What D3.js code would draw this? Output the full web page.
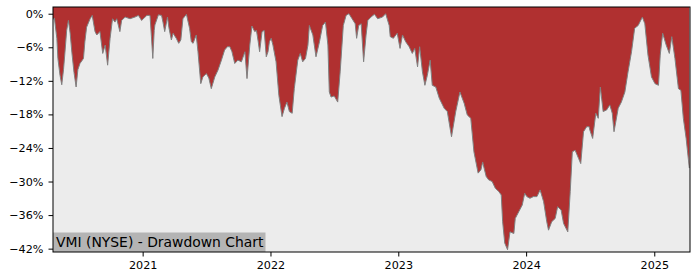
<!DOCTYPE html>
<html>
<head>
<meta charset="utf-8">
<script src="https://cdn.jsdelivr.net/npm/d3@7"></script>
<style>
  body { margin: 0; background: #fff; }
  text { font-family: "DejaVu Sans", sans-serif; }
</style>
</head>
<body>
<div id="chart"></div>
<script>
// drawdown of VMI (percent below running peak)
const dates = [
  '2020-04-20','2020-04-24','2020-05-01','2020-05-04','2020-05-10','2020-05-15','2020-05-20','2020-05-24','2020-05-29',
  '2020-06-03','2020-06-08','2020-06-13','2020-06-19','2020-06-25','2020-06-30','2020-07-06','2020-07-16','2020-07-20',
  '2020-07-25','2020-08-04','2020-08-10','2020-08-18','2020-08-23','2020-09-01','2020-09-09','2020-09-16','2020-09-23',
  '2020-09-30','2020-10-07','2020-10-14','2020-10-19','2020-10-28','2020-11-02','2020-11-12','2020-11-26','2020-12-10',
  '2020-12-20','2020-12-29','2021-01-13','2021-01-22','2021-01-26','2021-01-30','2021-02-03','2021-02-05','2021-02-15',
  '2021-02-24','2021-02-28','2021-03-05','2021-03-13','2021-03-17','2021-03-24','2021-03-29','2021-04-07','2021-04-14',
  '2021-04-20','2021-04-26','2021-05-06','2021-05-15','2021-05-20','2021-05-25','2021-06-03','2021-06-08','2021-06-16',
  '2021-06-22','2021-07-02','2021-07-09','2021-07-16','2021-07-26','2021-08-04','2021-08-14','2021-08-23','2021-08-31',
  '2021-09-07','2021-09-13','2021-09-21','2021-09-30','2021-10-10','2021-10-20','2021-10-26','2021-11-03','2021-11-09',
  '2021-11-17','2021-11-22','2021-11-27','2021-12-01','2021-12-08','2021-12-14','2021-12-20','2021-12-25','2021-12-29',
  '2022-01-03','2022-01-08','2022-01-17','2022-01-25','2022-02-03','2022-02-10','2022-02-17','2022-02-24','2022-03-04',
  '2022-03-10','2022-03-20','2022-03-27','2022-04-03','2022-04-11','2022-04-18','2022-04-22','2022-05-02','2022-05-11',
  '2022-05-21','2022-05-30','2022-06-07','2022-06-14','2022-06-18','2022-06-23','2022-07-02','2022-07-12','2022-07-19',
  '2022-07-28','2022-08-05','2022-08-13','2022-08-22','2022-08-31','2022-09-04','2022-09-10','2022-09-17','2022-09-24',
  '2022-10-01','2022-10-06','2022-10-15','2022-10-25','2022-11-03','2022-11-17','2022-11-26','2022-12-06','2022-12-09',
  '2022-12-18','2022-12-25','2022-12-29','2023-01-06','2023-01-13','2023-01-22','2023-02-01','2023-02-10','2023-02-17',
  '2023-02-25','2023-03-03','2023-03-11','2023-03-18','2023-03-25','2023-04-02','2023-04-08','2023-04-18','2023-04-28',
  '2023-05-12','2023-05-21','2023-06-02','2023-06-14','2023-06-26','2023-07-08','2023-07-17','2023-07-27','2023-08-05',
  '2023-08-17','2023-08-25','2023-08-30','2023-09-03','2023-09-09','2023-09-16','2023-09-26','2023-10-05','2023-10-15',
  '2023-10-22','2023-10-26','2023-11-01','2023-11-09','2023-11-16','2023-11-27','2023-12-01','2023-12-11','2023-12-21',
  '2023-12-28','2024-01-03','2024-01-12','2024-01-22','2024-02-01','2024-02-10','2024-02-20','2024-02-29','2024-03-05',
  '2024-03-14','2024-03-24','2024-03-31','2024-04-10','2024-04-17','2024-04-29','2024-05-06','2024-05-12','2024-05-20',
  '2024-05-30','2024-06-05','2024-06-13','2024-06-22','2024-06-29','2024-07-01','2024-07-09','2024-07-18','2024-07-25',
  '2024-07-31','2024-08-08','2024-08-18','2024-08-27','2024-09-03','2024-09-08','2024-09-20','2024-09-29','2024-10-09',
  '2024-10-18','2024-10-28','2024-11-06','2024-11-16','2024-11-28','2024-12-05','2024-12-14','2024-12-24','2025-01-03',
  '2025-01-13','2025-01-18','2025-01-25','2025-02-04','2025-02-13','2025-02-20','2025-03-01','2025-03-11','2025-03-18',
  '2025-03-25','2025-04-02','2025-04-11'
];

const drawdown = [
  -1.0, -0.8, -4.4, -8.0, -11.0, -12.7, -10.0, -7.0, -3.0,
  -1.2, -3.5, -7.0, -10.5, -13.1, -10.0, -8.9, -8.0, -5.0,
  -2.4, -0.9, -0.3, -3.2, -3.8, -3.2, -7.1, -5.6, -9.2,
  -4.4, -0.9, -1.5, -0.9, -3.2, -1.2, -0.6, -0.9, -0.6,
  -0.3, -1.2, -0.3, -0.3, -4.0, -8.0, -3.0, -2.0, -0.2,
  -0.3, -1.5, -3.2, -0.6, -2.5, -4.7, -3.5, -4.4, -5.3,
  -4.7, -0.9, -0.1, -2.6, -5.0, -5.3, -3.8, -6.8, -12.5,
  -11.3, -10.7, -11.5, -13.4, -11.3, -10.1, -8.3, -6.5, -5.9,
  -5.9, -6.8, -8.9, -8.3, -8.6, -6.8, -11.6, -5.6, -2.2,
  -3.2, -3.0, -5.0, -6.8, -3.2, -3.0, -7.7, -6.8, -5.0,
  -4.4, -5.6, -8.6, -14.6, -18.4, -16.9, -15.8, -17.5, -17.8,
  -13.4, -8.3, -7.1, -8.6, -8.0, -5.6, -2.1, -3.8, -7.7,
  -5.0, -2.1, -1.5, -5.6, -14.0, -14.9, -14.7, -15.8, -10.4,
  -2.1, -0.3, 0.0, -0.9, -1.8, -4.4, -2.1, -1.8, -8.6,
  -3.8, -1.2, -0.6, -0.1, -0.9, -0.6, 0.0, -2.1, -4.1,
  -4.4, -3.8, -3.5, -6.2, -3.8, -5.0, -5.9, -7.1, -6.2,
  -9.5, -5.9, -10.4, -12.8, -11.0, -8.3, -12.8, -13.1, -15.1,
  -16.9, -17.5, -22.0, -17.5, -14.0, -16.0, -18.1, -18.7, -24.7,
  -28.5, -27.9, -26.5, -27.6, -29.1, -29.7, -30.0, -31.2, -31.8,
  -32.4, -37.2, -41.0, -42.2, -39.0, -39.3, -36.6, -35.4, -34.2,
  -32.1, -32.7, -33.0, -32.7, -32.7, -31.5, -33.6, -37.2, -38.7,
  -37.2, -36.6, -34.5, -35.1, -37.5, -39.0, -31.8, -24.7, -24.4,
  -25.9, -26.8, -21.1, -20.2, -20.2, -20.8, -22.3, -17.8, -18.7,
  -13.1, -17.5, -17.2, -16.3, -17.8, -21.1, -16.9, -15.8, -14.0,
  -10.4, -6.8, -2.6, -2.1, -0.6, -1.8, -7.4, -11.3, -12.5,
  -12.8, -7.4, -3.5, -5.6, -7.1, -4.1, -8.0, -13.4, -13.7,
  -18.7, -22.3, -27.6
];

const yTicks = [0, -6, -12, -18, -24, -30, -36, -42];
const xTickYears = [2021, 2022, 2023, 2024, 2025];
const title = 'VMI (NYSE) - Drawdown Chart';

const parseDate = d3.timeParse('%Y-%m-%d');
const data = dates.map((d, i) => ({date: parseDate(d), value: drawdown[i]}));

const margin = {top: 7, right: 10, bottom: 28, left: 53};
const width = 700 - margin.left - margin.right;
const height = 280 - margin.top - margin.bottom;

const svg = d3.select('#chart')
    .append('svg')
    .attr('width', 700)
    .attr('height', 280)
    .append('g')
    .attr('transform', `translate(${margin.left},${margin.top})`);

const x = d3.scaleTime()
    .domain([parseDate('2020-04-20'), parseDate('2025-04-13')])
    .range([0, width]);

const y = d3.scaleLinear()
    .domain([-42.6, 1.2])
    .range([height, 0]);

svg.append('defs').append('clipPath')
    .attr('id', 'plotClip')
    .append('rect')
    .attr('width', width)
    .attr('height', height);

svg.append('rect')
    .attr('width', width)
    .attr('height', height)
    .attr('fill', '#ececec');

const plot = svg.append('g').attr('clip-path', 'url(#plotClip)');

// red area from the top of the axes down to the drawdown curve
plot.append('path')
    .datum(data)
    .attr('fill', '#b03030')
    .attr('d', d3.area()
        .x(d => x(d.date))
        .y0(0)
        .y1(d => y(d.value)));

plot.append('path')
    .datum(data)
    .attr('fill', 'none')
    .attr('stroke', '#808080')
    .attr('stroke-width', 1)
    .attr('d', d3.line()
        .x(d => x(d.date))
        .y(d => y(d.value)));

const fmtPct = d => (d < 0 ? '\u2212' + Math.abs(d) : d) + '%';

const yAxis = svg.append('g')
    .call(d3.axisLeft(y).tickValues(yTicks).tickSize(4.5).tickPadding(5).tickFormat(fmtPct));

const xAxis = svg.append('g')
    .attr('transform', `translate(0,${height})`)
    .call(d3.axisBottom(x)
        .tickValues(xTickYears.map(yr => new Date(yr, 0, 1)))
        .tickSize(4.5)
        .tickPadding(5)
        .tickFormat(d3.timeFormat('%Y')));

[yAxis, xAxis].forEach(ax => {
    ax.select('.domain').remove();
    ax.selectAll('text')
        .attr('font-family', '"DejaVu Sans", sans-serif')
        .attr('font-size', '11.2px')
        .attr('fill', '#000');
    ax.selectAll('line').attr('stroke', '#000').attr('stroke-width', 1);
});

// title box in the lower left corner
const label = svg.append('g');
const labelText = label.append('text')
    .attr('x', 3)
    .attr('y', height - 5.5)
    .attr('font-size', '13.9px')
    .attr('fill', '#000')
    .text(title);
const tw = labelText.node().getComputedTextLength();
label.insert('rect', 'text')
    .attr('x', 0)
    .attr('y', height - 19.5)
    .attr('width', tw + 5)
    .attr('height', 19.5)
    .attr('fill', '#b4b4b4');

svg.append('rect')
    .attr('width', width)
    .attr('height', height)
    .attr('fill', 'none')
    .attr('stroke', '#000')
    .attr('stroke-width', 1);
</script>
</body>
</html>
